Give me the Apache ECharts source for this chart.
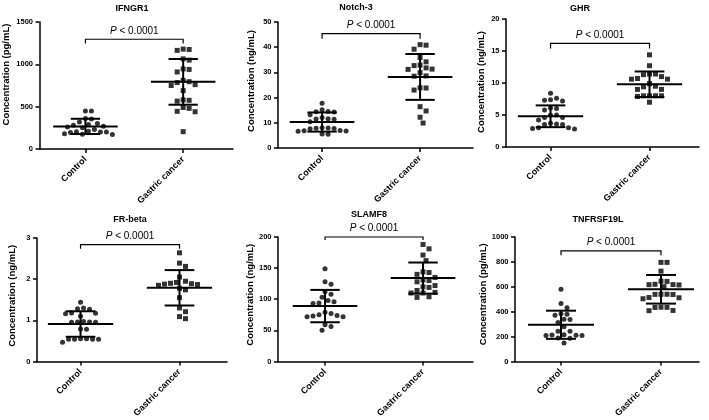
<!DOCTYPE html>
<html>
<head>
<meta charset="utf-8">
<script src="https://cdn.jsdelivr.net/npm/echarts@6/dist/echarts.min.js"></script>
<style>html,body{margin:0;padding:0;background:#fff;}#c{width:709px;height:420px;}</style>
</head>
<body>
<div id="c"></div>
<script>
// ---------------- DATA ----------------
const categories = ['Control', 'Gastric cancer'];
const titles = ['IFNGR1', 'Notch-3', 'GHR', 'FR-beta', 'SLAMF8', 'TNFRSF19L'];
const yNames = ['Concentration (pg/mL)', 'Concentration (ng/mL)', 'Concentration (ng/mL)',
                'Concentration (ng/mL)', 'Concentration (ng/mL)', 'Concentration (pg/mL)'];
const yMax = [1500, 50, 20, 3, 200, 1000];
const yInterval = [500, 10, 5, 1, 50, 200];
const pLabels = ['P < 0.0001', 'P < 0.0001', 'P < 0.0001', 'P < 0.0001', 'P < 0.0001', 'P < 0.0001'];

const ifngr1Control = [450, 450, 360, 355, 320, 300, 290, 280, 270, 260, 250, 230, 210, 205, 200, 200, 195, 180, 175, 170];
const ifngr1Gastric = [1180, 1165, 1175, 1065, 1050, 940, 945, 910, 810, 795, 785, 760, 750, 690, 580, 575, 565, 490, 480, 445, 440, 205];
const notch3Control = [17.8, 15.2, 14.5, 14.4, 14.3, 13.2, 12.1, 11.6, 11.5, 11.4, 10.4, 8.0, 7.9, 7.8, 7.7, 7.6, 6.9, 6.8, 6.7, 6.6, 5.6, 5.5];
const notch3Gastric = [41, 40.8, 39.2, 35.9, 34.2, 32.9, 32.7, 31.8, 31.3, 31.2, 29.9, 28.6, 28.5, 23.9, 23.8, 23.0, 16.4, 14.7, 12.2, 9.9];
const ghrControl = [8.4, 7.6, 7.4, 7.3, 7.2, 6.1, 6.0, 5.8, 5.0, 5.0, 4.6, 4.6, 4.2, 3.7, 3.6, 3.5, 3.5, 3.0, 3.0, 2.9, 2.8];
const ghrGastric = [14.4, 12.7, 11.4, 11.4, 11.3, 11.0, 10.7, 10.6, 10.6, 9.9, 9.5, 9.4, 9.0, 9.0, 8.0, 8.0, 8.0, 8.0, 7.9, 7.0];
const frbetaControl = [1.44, 1.30, 1.28, 1.27, 1.18, 1.17, 1.16, 1.10, 0.97, 0.96, 0.96, 0.95, 0.95, 0.79, 0.78, 0.55, 0.55, 0.54, 0.54, 0.54, 0.54, 0.47];
const frbetaGastric = [2.64, 2.39, 2.31, 2.05, 1.95, 1.92, 1.90, 1.89, 1.88, 1.87, 1.85, 1.78, 1.74, 1.55, 1.30, 1.21, 1.09, 1.04];
const slamf8Control = [149, 128, 124, 112, 108, 103, 98, 96, 94, 93, 79, 77, 75, 74, 73, 72, 72, 59, 56, 50];
const slamf8Gastric = [188, 181, 171, 162, 144, 143, 140, 135, 131, 130, 128, 122, 120, 119, 114, 111, 110, 110, 104, 103];
const tnfControl = [580, 465, 431, 384, 380, 371, 339, 337, 313, 279, 243, 243, 214, 212, 210, 209, 208, 188, 186, 149];
const tnfGastric = [796, 796, 726, 645, 643, 620, 618, 617, 615, 601, 540, 540, 539, 538, 514, 512, 504, 436, 435, 434, 410, 408];

const groups = [
  [ifngr1Control, ifngr1Gastric],
  [notch3Control, notch3Gastric],
  [ghrControl, ghrGastric],
  [frbetaControl, frbetaGastric],
  [slamf8Control, slamf8Gastric],
  [tnfControl, tnfGastric]
];
const means = [[267, 793], [10.3, 28.2], [4.8, 9.8], [0.91, 1.79], [89, 134], [295, 580]];
const sds = [[90, 270], [3.8, 9.1], [1.7, 2.0], [0.31, 0.43], [26, 25], [113, 115]];
const bracketTop = [1296, 45.4, 16.2, 2.84, 200, 888];
const bracketEnd = [1245, 43.4, 15.4, 2.74, 195, 854];

// ---------------- LAYOUT ----------------
const FONT = '"Liberation Sans", Arial, Helvetica, sans-serif';
const panels = [
  {left: 39, top: 22, width: 194, height: 127, xMin: -0.47, xMax: 1.51, nameGap: 28.5, nameShift: 11, tx: 132, ty: 9},
  {left: 278, top: 22, width: 195, height: 126, xMin: -0.45, xMax: 1.54, nameGap: 22, nameShift: 4, tx: 356, ty: 8},
  {left: 506, top: 19, width: 193, height: 128, xMin: -0.45, xMax: 1.50, nameGap: 19.5, nameShift: 1, tx: 580, ty: 9},
  {left: 37, top: 238, width: 190, height: 127, xMin: -0.44, xMax: 1.48, nameGap: 19.5, nameShift: 4, tx: 130, ty: 220},
  {left: 278, top: 237, width: 195, height: 127, xMin: -0.48, xMax: 1.51, nameGap: 22, nameShift: 4.5, tx: 369, ty: 215},
  {left: 515, top: 237, width: 184, height: 128, xMin: -0.46, xMax: 1.38, nameGap: 25, nameShift: 5, tx: 598, ty: 220}
];
const HALF_PX = 3, MIN_DIST = 6, SYM = 5;

// beeswarm placement: keeps each value, only spreads points sideways
function swarm(values, center, pyu, pxu) {
  const placed = [], out = [];
  values.slice().sort((a, b) => b - a).forEach(v => {
    const y = v * pyu;
    for (let k = 0; k < 80; k++) {
      const off = (k % 2 === 1 ? 1 : -1) * Math.ceil(k / 2) * HALF_PX;
      if (placed.every(q => Math.hypot(q[0] - off, q[1] - y) >= MIN_DIST)) {
        placed.push([off, y]);
        out.push([center + off / pxu, v]);
        break;
      }
    }
  });
  return out;
}

const grid = [], xAxis = [], yAxis = [], series = [], graphic = [];
const axisLineStyle = {color: '#000', width: 1.5};

panels.forEach((p, i) => {
  grid.push({left: p.left, top: p.top, width: p.width, height: p.height, containLabel: false});
  xAxis.push({
    type: 'value', gridIndex: i, min: p.xMin, max: p.xMax,
    splitLine: {show: false},
    axisLine: {show: true, onZero: false, lineStyle: axisLineStyle},
    axisTick: {show: true, customValues: [0, 1], length: 4, lineStyle: axisLineStyle},
    axisLabel: {
      show: true, customValues: [0, 1], rotate: 45, margin: 9,
      formatter: v => categories[Math.round(v)] || '',
      fontSize: 9, fontWeight: 'bold', color: '#000', fontFamily: FONT
    }
  });
  yAxis.push({
    type: 'value', gridIndex: i, min: 0, max: yMax[i], interval: yInterval[i],
    name: yNames[i], nameLocation: 'middle', nameGap: p.nameGap,
    nameTextStyle: {fontSize: 9.5, fontWeight: 'bold', color: '#000', fontFamily: FONT,
      padding: [0, 0, 0, 2 * p.nameShift]},
    splitLine: {show: false},
    axisLine: {show: true, onZero: false, lineStyle: axisLineStyle},
    axisTick: {show: true, length: 4, lineStyle: axisLineStyle},
    axisLabel: {fontSize: 7.5, fontWeight: 'bold', color: '#000', margin: 6.5, fontFamily: FONT,
      formatter: v => String(v)}
  });
  graphic.push({
    type: 'text', x: p.tx, y: p.ty,
    style: {text: titles[i], fill: '#000', font: 'bold 9px ' + FONT, align: 'center', verticalAlign: 'middle'}
  });

  const pyu = p.height / yMax[i];
  const pxu = p.width / (p.xMax - p.xMin);
  ['circle', 'rect'].forEach((sym, g) => {
    series.push({
      type: 'scatter', xAxisIndex: i, yAxisIndex: i, symbol: sym, symbolSize: SYM,
      itemStyle: {color: '#000'}, z: 2, silent: true,
      data: swarm(groups[i][g], g, pyu, pxu)
    });
  });

  series.push({
    type: 'custom', xAxisIndex: i, yAxisIndex: i, z: 3, silent: true,
    data: [[0, means[i][0], sds[i][0]], [1, means[i][1], sds[i][1]]],
    renderItem: (params, api) => {
      const c = api.value(0), m = api.value(1), s = api.value(2);
      const pm = api.coord([c, m]), pt = api.coord([c, m + s]), pb = api.coord([c, m - s]);
      const unit = api.size([1, 0])[0];
      const hw = 0.33 * unit, sw = 0.15 * unit;
      const st = {stroke: '#000', lineWidth: 2};
      return {type: 'group', children: [
        {type: 'line', shape: {x1: pm[0] - hw, y1: pm[1], x2: pm[0] + hw, y2: pm[1]}, style: st},
        {type: 'line', shape: {x1: pt[0] - sw, y1: pt[1], x2: pt[0] + sw, y2: pt[1]}, style: st},
        {type: 'line', shape: {x1: pb[0] - sw, y1: pb[1], x2: pb[0] + sw, y2: pb[1]}, style: st},
        {type: 'line', shape: {x1: pt[0], y1: pt[1], x2: pb[0], y2: pb[1]}, style: st}
      ]};
    }
  });

  const lbl = pLabels[i];
  series.push({
    type: 'custom', xAxisIndex: i, yAxisIndex: i, z: 3, silent: true, clip: false,
    data: [[0, 1, bracketTop[i], bracketEnd[i]]],
    renderItem: (params, api) => {
      const a = api.coord([api.value(0), api.value(2)]);
      const b = api.coord([api.value(1), api.value(2)]);
      const a2 = api.coord([api.value(0), api.value(3)]);
      const b2 = api.coord([api.value(1), api.value(3)]);
      return {type: 'group', children: [
        {type: 'polyline', shape: {points: [a2, a, b, b2]}, style: {stroke: '#000', lineWidth: 1.2, fill: null}},
        {type: 'text', x: (a[0] + b[0]) / 2, y: a[1] - 8.5, style: {
          text: '{i|' + lbl.charAt(0) + '}' + lbl.slice(1),
          rich: {i: {fontStyle: 'italic', fontSize: 10, fontFamily: FONT, fill: '#000'}},
          fontSize: 10, fontFamily: FONT, fill: '#000', align: 'center', verticalAlign: 'middle'
        }}
      ]};
    }
  });
});

const chart = echarts.init(document.getElementById('c'), null, {renderer: 'canvas'});
chart.setOption({
  animation: false,
  backgroundColor: '#fff',
  textStyle: {fontFamily: FONT},
  grid, xAxis, yAxis, series, graphic
});
</script>
</body>
</html>
